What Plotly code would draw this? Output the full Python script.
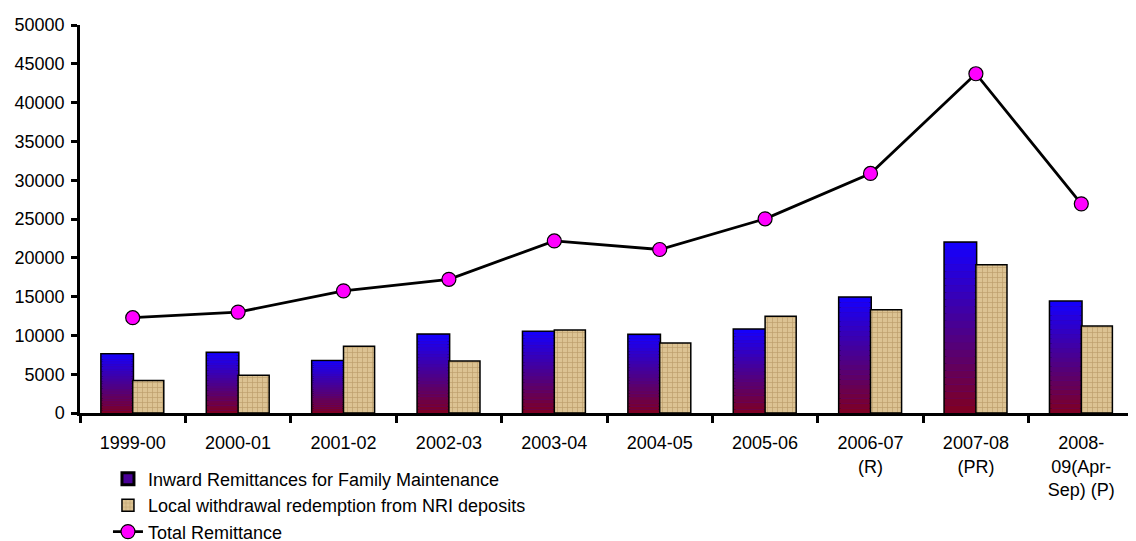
import plotly.graph_objects as go

categories = ["1999-00", "2000-01", "2001-02", "2002-03", "2003-04", "2004-05",
              "2005-06", "2006-07<br>(R)", "2007-08<br>(PR)", "2008-<br>09(Apr-<br>Sep) (P)"]
inward = [7550, 7720, 6680, 10080, 10450, 10040, 10730, 14850, 21930, 14340]
local_wd = [4200, 4850, 8600, 6700, 10700, 9010, 12480, 13300, 19100, 11200]
total = [12280, 13000, 15740, 17230, 22170, 21070, 25020, 30870, 43720, 26950]
y_ticks = list(range(0, 50001, 5000))

BAR_W = 0.295
N_SEG = 24
top_rgb = (20, 0, 255)
bot_rgb = (128, 0, 32)

fig = go.Figure()

# base bar for inward (outline + legend swatch)
fig.add_trace(go.Bar(
    x=categories, y=inward, name="Inward Remittances for Family Maintenance",
    width=BAR_W, offset=-BAR_W,
    marker=dict(color="#4a0098", line=dict(color="black", width=3)),
    legendrank=1,
))

# gradient segments built from the inward values
for i in range(N_SEG):
    t = (i + 0.5) / N_SEG
    c = tuple(int(round(bot_rgb[k] + (top_rgb[k] - bot_rgb[k]) * t)) for k in range(3))
    fig.add_trace(go.Bar(
        x=categories, y=[v / N_SEG for v in inward], base=[v * i / N_SEG for v in inward],
        width=BAR_W, offset=-BAR_W, showlegend=False, hoverinfo="skip",
        marker=dict(color="rgb(%d,%d,%d)" % c, line=dict(width=0)),
    ))

fig.add_trace(go.Bar(
    x=categories, y=local_wd, name="Local withdrawal redemption from NRI deposits",
    width=BAR_W, offset=0,
    marker=dict(color="#d8bd8a", line=dict(color="black", width=1.5),
                pattern=dict(shape="+", fgcolor="#9a7843", bgcolor="#dcc393",
                             size=5, solidity=0.25, fillmode="overlay")),
    legendrank=2,
))

fig.add_trace(go.Scatter(
    x=categories, y=total, name="Total Remittance", mode="lines+markers",
    line=dict(color="black", width=2.8),
    marker=dict(color="#ff00ff", size=14, line=dict(color="black", width=1.2)),
    legendrank=3,
))

fig.update_layout(
    width=1136, height=541,
    margin=dict(l=72, r=10, t=17, b=136, autoexpand=False),
    barmode="overlay",
    plot_bgcolor="white", paper_bgcolor="white",
    font=dict(family="Arial, Liberation Sans, sans-serif", size=18, color="black"),
    showlegend=True,
    legend=dict(xref="container", yref="container", x=0.088, y=0.1634,
                xanchor="left", yanchor="top",
                font=dict(size=18), bgcolor="rgba(0,0,0,0)",
                tracegroupgap=0, itemwidth=30),
    xaxis=dict(type="category", range=[-0.5, 9.5], showline=True, linecolor="black",
               linewidth=2.5, ticks="outside", ticklen=7, tickwidth=2.5,
               tickcolor="black", tickson="boundaries", showgrid=False, zeroline=False,
               automargin=False, ticklabelstandoff=12, tickangle=0),
    yaxis=dict(range=[0, 50000], tickvals=y_ticks, ticktext=[str(v) for v in y_ticks],
               showline=True, linecolor="black", linewidth=2.5, ticks="outside",
               ticklen=6, tickwidth=2.5, tickcolor="black", showgrid=False,
               zeroline=False, ticklabelstandoff=3, automargin=False),
)

fig.write_html("out.html")
